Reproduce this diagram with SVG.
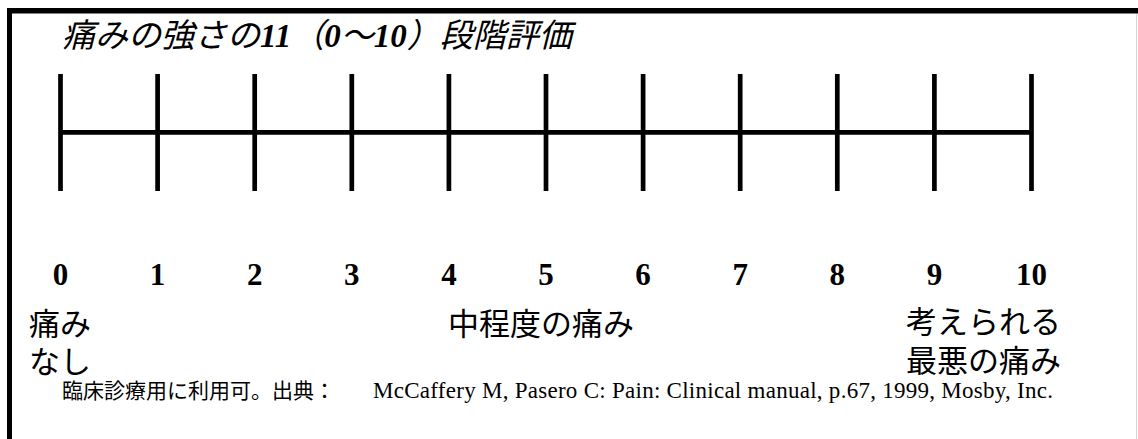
<svg xmlns="http://www.w3.org/2000/svg" width="1138" height="439" viewBox="0 0 1138 439">
  <style>
    .tk { stroke: #000; stroke-width: 4.7; fill: none; }
    .num { font-family: "Liberation Serif", "Noto Sans CJK JP", serif; font-weight: bold; font-size: 31px; fill: #000; text-anchor: middle; }
    .jp { font-family: "Noto Sans CJK JP", sans-serif; font-size: 31px; fill: #000; }
    .title { font-family: "Liberation Serif", "Noto Sans CJK JP", serif; font-size: 33px; font-style: italic; fill: #000; }
    .cjk { font-family: "Noto Sans CJK JP", sans-serif; }
    .foot { font-family: "Liberation Serif", "Noto Sans CJK JP", serif; fill: #000; }
  </style>
  <rect width="1138" height="439" fill="#fff"/>
  <g id="frame">
    <rect x="7" y="8" width="1131" height="5.5" fill="#000"/>
    <rect x="7" y="8" width="5" height="431" fill="#000"/>
    <line x1="1136.5" y1="14" x2="1136.5" y2="439" stroke="#d4d4d4" stroke-width="1"/>
  </g>
  <g id="title">
    <text class="title" x="62" y="47"><tspan class="cjk">痛みの強さの</tspan><tspan font-weight="bold">11</tspan><tspan class="cjk">（</tspan><tspan font-weight="bold">0</tspan><tspan class="cjk">〜</tspan><tspan font-weight="bold">10</tspan><tspan class="cjk">）段階評価</tspan></text>
  </g>
  <g id="connectors">
    <line class="tk" x1="60.5" y1="132.3" x2="1031.5" y2="132.3"/>
    <line class="tk" x1="60.5" y1="74" x2="60.5" y2="191"/>
    <line class="tk" x1="157.6" y1="74" x2="157.6" y2="191"/>
    <line class="tk" x1="254.7" y1="74" x2="254.7" y2="191"/>
    <line class="tk" x1="351.8" y1="74" x2="351.8" y2="191"/>
    <line class="tk" x1="448.9" y1="74" x2="448.9" y2="191"/>
    <line class="tk" x1="546" y1="74" x2="546" y2="191"/>
    <line class="tk" x1="643.1" y1="74" x2="643.1" y2="191"/>
    <line class="tk" x1="740.2" y1="74" x2="740.2" y2="191"/>
    <line class="tk" x1="837.3" y1="74" x2="837.3" y2="191"/>
    <line class="tk" x1="934.4" y1="74" x2="934.4" y2="191"/>
    <line class="tk" x1="1031.5" y1="74" x2="1031.5" y2="191"/>
  </g>
  <g id="n0"><text class="num" x="60.5" y="285">0</text></g>
  <g id="n1"><text class="num" x="157.6" y="285">1</text></g>
  <g id="n2"><text class="num" x="254.7" y="285">2</text></g>
  <g id="n3"><text class="num" x="351.8" y="285">3</text></g>
  <g id="n4"><text class="num" x="448.9" y="285">4</text></g>
  <g id="n5"><text class="num" x="546" y="285">5</text></g>
  <g id="n6"><text class="num" x="643.1" y="285">6</text></g>
  <g id="n7"><text class="num" x="740.2" y="285">7</text></g>
  <g id="n8"><text class="num" x="837.3" y="285">8</text></g>
  <g id="n9"><text class="num" x="934.4" y="285">9</text></g>
  <g id="n10"><text class="num" x="1031.5" y="285">10</text></g>
  <g id="label-none">
    <text class="jp" x="29" y="335">痛み<tspan x="29" y="373">なし</tspan></text>
  </g>
  <g id="label-moderate">
    <text class="jp" x="448" y="335">中程度の痛み</text>
  </g>
  <g id="label-worst">
    <text class="jp" x="906" y="333">考えられる<tspan x="906" y="372">最悪の痛み</tspan></text>
  </g>
  <g id="footer">
    <text class="foot" x="62" y="398" font-size="21"><tspan class="cjk">臨床診療用に利用可。出典：</tspan><tspan x="373" font-size="23" textLength="680" lengthAdjust="spacing">McCaffery M, Pasero C: Pain: Clinical manual, p.67, 1999, Mosby, Inc.</tspan></text>
  </g>
</svg>
